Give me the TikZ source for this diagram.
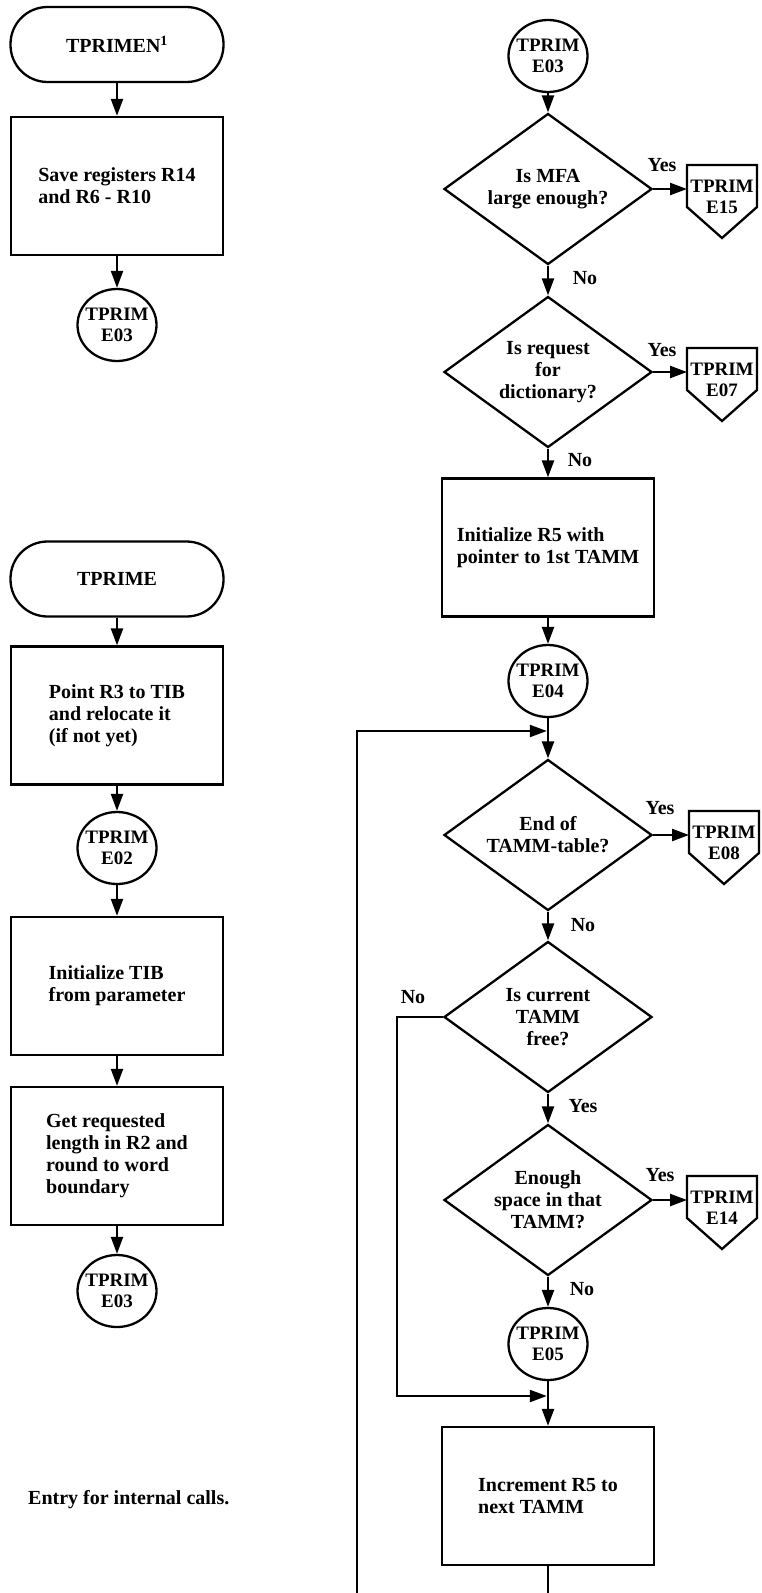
\documentclass[tikz,border=0pt]{standalone}
\usepackage{fontspec}
\setmainfont{Liberation Serif}
\usetikzlibrary{arrows.meta,shapes.geometric,calc}
\newcommand\cntext[1]{\makebox[0pt]{TPRIM}\\\makebox[0pt]{#1}}
\newcommand\offpg[4]{%
  \node[offtext] (#1) at (#2,#3+32) {\cntext{#4}};
  \draw[line] (#2-35,#3) -- (#2+35,#3) -- (#2+35,#3+42) -- (#2,#3+73) -- (#2-35,#3+42) -- cycle;
  \coordinate (#1-in) at (#2-35,#3+24);}
\begin{document}
\begin{tikzpicture}[x=1pt,y=-1pt,
  every node/.style={font=\fontsize{20}{22}\selectfont\bfseries},
  line/.style={line width=2.3pt},
  arr/.style={line width=2.3pt,-{Triangle[length=17pt,width=12pt]}},
  proc/.style={draw,line width=2.3pt,rectangle,minimum width=212pt,minimum height=138pt,align=left,inner sep=0pt},
  term/.style={draw,line width=2.3pt,rectangle,rounded corners=37pt,minimum width=213pt,minimum height=75pt},
  conn/.style={draw,line width=2.3pt,ellipse,minimum width=79pt,minimum height=72pt,inner sep=0pt,align=center,
    font=\fontsize{19}{21}\selectfont\bfseries},
  dec/.style={draw,line width=2.3pt,diamond,aspect=1.4,minimum width=208pt,minimum height=151pt,inner sep=0pt,align=center},
  lab/.style={inner sep=0pt},
  offtext/.style={inner sep=0pt,align=center,font=\fontsize{19}{21}\selectfont\bfseries}]
\fill[white] (0,0) rectangle (762,1593);
\useasboundingbox (0,0) rectangle (762,1593);

% left column
\node[term] (tprimen) at (117,44.5) {TPRIMEN\textsuperscript{1}};
\node[proc] (save) at (117,186) {Save registers R14\\and R6 - R10};
\node[conn] (e03a) at (117,325) {\cntext{E03}};
\node[term] (tprime) at (117,579) {TPRIME};
\node[proc] (point) at (117,715.5) {Point R3 to TIB\\and relocate it\\(if not yet)};
\node[conn] (e02) at (117,848) {\cntext{E02}};
\node[proc] (init) at (117,986) {Initialize TIB\\from parameter};
\node[proc] (getlen) at (117,1156) {Get requested\\length in R2 and\\round to word\\boundary};
\node[conn] (e03b) at (117,1291) {\cntext{E03}};
\node[anchor=west,inner sep=0pt] (note) at (28,1500) {Entry for internal calls.};

\draw[arr] (tprimen) -- (save);
\draw[arr] (save) -- (e03a);
\draw[arr] (tprime) -- (point);
\draw[arr] (point) -- (e02);
\draw[arr] (e02) -- (init);
\draw[arr] (init) -- (getlen);
\draw[arr] (getlen) -- (e03b);

% right column
\node[conn] (e03r) at (548,56) {\cntext{E03}};
\node[dec] (d1) at (548,189) {Is MFA\\large enough?};
\offpg{e15}{722}{165}{E15}
\node[dec] (d2) at (548,372) {Is request\\for\\dictionary?};
\offpg{e07}{722}{348}{E07}
\node[proc] (initr5) at (548,547.5) {Initialize R5 with\\pointer to 1st TAMM};
\node[conn] (e04) at (548,681) {\cntext{E04}};
\node[dec] (d3) at (548,835) {End of\\TAMM-table?};
\offpg{e08}{724}{811}{E08}
\node[dec] (d4) at (548,1017) {Is current\\TAMM\\free?};
\node[dec] (d5) at (548,1200) {Enough\\space in that\\TAMM?};
\offpg{e14}{722}{1176}{E14}
\node[conn] (e05) at (548,1344) {\cntext{E05}};
\node[proc] (incr) at (548,1496) {Increment R5 to\\next TAMM};

% labels
\node[lab] (y1) at (662,165) {Yes};
\node[lab] (n1) at (585,278) {No};
\node[lab] (y2) at (662,350) {Yes};
\node[lab] (n2) at (580,460) {No};
\node[lab] (y3) at (660,808) {Yes};
\node[lab] (n3) at (583,925) {No};
\node[lab] (n4) at (413,997) {No};
\node[lab] (y4) at (583,1106) {Yes};
\node[lab] (y5) at (660,1175) {Yes};
\node[lab] (n5) at (582,1289) {No};

\draw[arr] (e03r) -- (d1);
\draw[arr] (d1.east) -- (e15-in);
\draw[arr] (d1) -- (d2);
\draw[arr] (d2.east) -- (e07-in);
\draw[arr] (d2) -- (initr5);
\draw[arr] (initr5) -- (e04);
\draw[arr] (e04) -- (d3);
\draw[arr] (d3.east) -- (e08-in);
\draw[arr] (d3) -- (d4);
\draw[arr] (d4) -- (d5);
\draw[arr] (d5.east) -- (e14-in);
\draw[arr] (d5) -- (e05);
\draw[arr] (e05) -- (incr);

\coordinate (nojoin) at (548,1396);
\draw[arr,shorten >=1.2pt] (d4.west) -- ++(-46,0) |- (nojoin);

\coordinate (loopbot) at (357,1593);
\coordinate (looptop) at (357,731);
\coordinate (loopjoin) at (548,731);
\draw[arr,shorten >=1.2pt] (loopbot) -- (looptop) -- (loopjoin);
\coordinate (incbot) at (548,1593);
\draw[line] (incr) -- (incbot);
\end{tikzpicture}
\end{document}
